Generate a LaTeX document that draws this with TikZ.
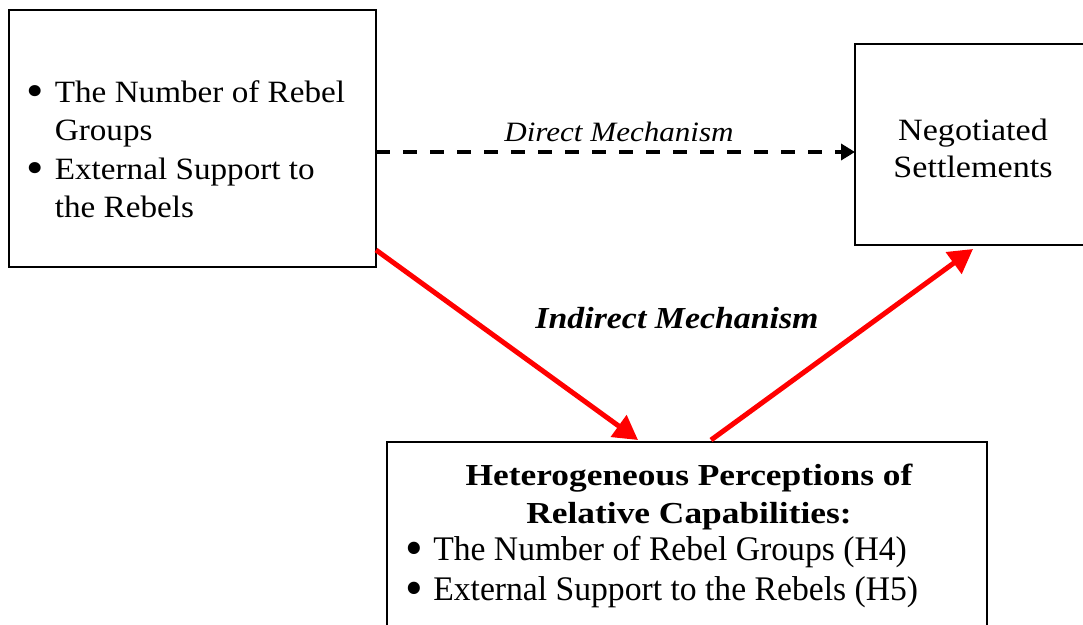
\documentclass[tikz,border=0pt]{standalone}
\usepackage{fontspec}
\setmainfont{Liberation Serif}
\usetikzlibrary{arrows.meta}
\newcommand{\bigbul}{\raisebox{-0.16em}{\scalebox{1.5}{\textbullet}}}
\begin{document}
\begin{tikzpicture}[x=1pt,y=-1pt,
  box/.style={draw=black, line width=2.4pt, inner sep=0pt, outer sep=0pt},
  txt/.style={inner sep=0pt, outer sep=0pt},
  redarrow/.style={draw=red, line width=5pt, -{Triangle[length=24pt,width=26pt]}},
  dasharrow/.style={draw=black, line width=3.5pt, dash pattern=on 14pt off 13pt, -{Triangle[length=14pt,width=16pt]}}]
\useasboundingbox (0,0) rectangle (1083,624);
\clip (0,0) rectangle (1083,624);
\fill[white] (0,0) rectangle (1083,624);
\node[box, minimum width=367pt, minimum height=257pt] (L) at (192.5,138.5) {};
\node[box, minimum width=260pt, minimum height=201pt, anchor=north west] (R) at (855,44) {};
\node[box, minimum width=600pt, minimum height=220pt, anchor=north west] (B) at (387,442) {};
% left text
\node[txt, anchor=base west] (Lt) at (26,102) {\scalebox{1.07}[1]{\fontsize{31}{38.5}\selectfont\begin{tabular}[t]{@{}l@{}}
\makebox[27pt][l]{\bigbul}The Number of Rebel\\
\hspace*{27pt}Groups\\
\makebox[27pt][l]{\bigbul}External Support to\\
\hspace*{27pt}the Rebels
\end{tabular}}};
% right text
\node[txt, anchor=base] (Rt) at (973,140) {\scalebox{1.1}[1]{\fontsize{31}{37}\selectfont\begin{tabular}[t]{@{}c@{}}Negotiated\\Settlements\end{tabular}}};
% bottom heading
\node[txt, anchor=base] (Bh) at (689,485) {\scalebox{1.16}[1]{\fontsize{30.5}{38}\selectfont\bfseries\begin{tabular}[t]{@{}c@{}}Heterogeneous Perceptions of\\Relative Capabilities:\end{tabular}}};
% bottom bullets
\node[txt, anchor=base west] (Bb) at (405,560) {\scalebox{0.975}[1]{\fontsize{34.5}{40}\selectfont\begin{tabular}[t]{@{}l@{}}
\makebox[29pt][l]{\bigbul}The Number of Rebel Groups (H4)\\
\makebox[29pt][l]{\bigbul}External Support to the Rebels (H5)
\end{tabular}}};
% labels
\node[txt, anchor=base] (Dl) at (619,141) {\scalebox{1.11}[1]{\fontsize{28}{33}\selectfont\itshape Direct Mechanism}};
\node[txt, anchor=base] (Il) at (677,328) {\scalebox{1.11}[1]{\fontsize{30.5}{36}\selectfont\bfseries\itshape Indirect Mechanism}};
% connectors
\draw[dasharrow] ([yshift=-13.5pt]L.east) -- ([yshift=-7.5pt]R.west);
\draw[redarrow] ([yshift=17pt]L.south east) -- ([xshift=251pt,yshift=2pt]B.north west);
\draw[redarrow] ([xshift=324pt,yshift=2pt]B.north west) -- ([xshift=118pt,yshift=-4pt]R.south west);
\end{tikzpicture}
\end{document}
